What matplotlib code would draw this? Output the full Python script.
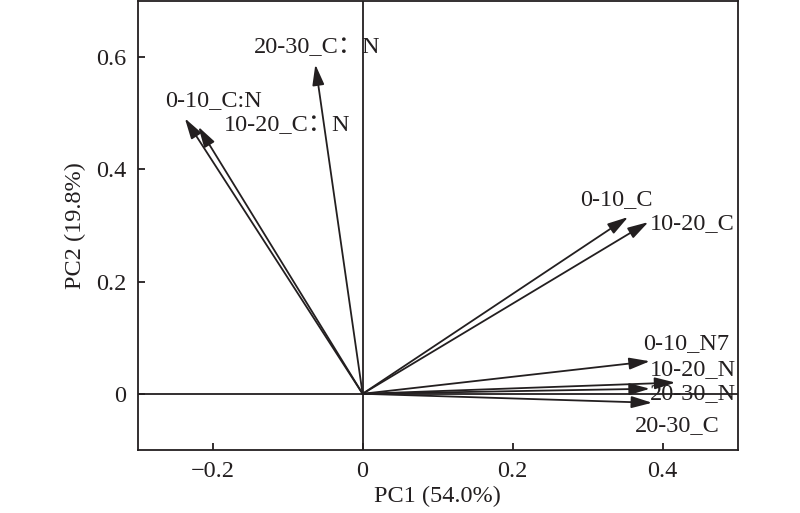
import matplotlib
matplotlib.use("Agg")
import matplotlib.pyplot as plt

# Loadings (arrow tips)
labels = ["0-10_C:N", "10-20_C：N", "20-30_C：N", "0-10_C", "10-20_C",
          "0-10_N7", "10-20_N", "20-30_N", "20-30_C"]
pc1 = [-0.237, -0.219, -0.063, 0.354, 0.381, 0.383, 0.417, 0.383, 0.386]
pc2 = [0.491, 0.476, 0.587, 0.315, 0.306, 0.058, 0.020, 0.009, -0.016]
xticks = [-0.2, 0, 0.2, 0.4]
xticklabels = ["\u22120.2", "0", "0.2", "0.4"]
yticks = [0, 0.2, 0.4, 0.6]
yticklabels = ["0", "0.2", "0.4", "0.6"]

# label offsets (points) relative to arrow tips: layout only
offsets = [(-14.4, 12.5), (18.5, 0.7), (-44.6, 12.2), (-34.8, 12.7), (1.2, -0.7),
           (-4.8, 12.7), (-18.0, 9.1), (0.0, -3.6), (-12.2, -16.6)]

ink = "#231f20"
fam = ["Liberation Serif", "Noto Sans CJK SC", "DejaVu Serif"]
plt.rcParams["font.family"] = fam
fs = 17.5

fig = plt.figure(figsize=(8.0, 5.13), dpi=100)
ax = fig.add_axes([0.172, 0.123, 0.750, 0.875])
ax.set_xlim(-0.3, 0.5)
ax.set_ylim(-0.1, 0.7)

ax.axhline(0, color=ink, lw=1.3, zorder=1)
ax.axvline(0, color=ink, lw=1.3, zorder=1)

for lab, x, y, (dx, dy) in zip(labels, pc1, pc2, offsets):
    ax.annotate("", xy=(x, y), xytext=(0, 0),
                arrowprops=dict(arrowstyle="-|>,head_length=1.25,head_width=0.36",
                                mutation_scale=10, color=ink, lw=1.3,
                                shrinkA=0, shrinkB=0),
                zorder=3)
    ax.annotate(lab, xy=(x, y), xytext=(dx, dy), textcoords="offset points",
                ha="left", va="center", fontsize=fs, color=ink, family=fam,
                zorder=4)

ax.set_xticks(xticks)
ax.set_xticklabels(xticklabels)
ax.set_yticks(yticks)
ax.set_yticklabels(yticklabels)
ax.tick_params(direction="in", length=5, width=1.3, colors=ink, labelsize=fs,
               top=False, right=False)
ax.tick_params(axis="x", pad=8)
ax.tick_params(axis="y", pad=8)
for sp in ax.spines.values():
    sp.set_color(ink)
    sp.set_linewidth(1.3)

ax.set_xlabel("PC1 (54.0%)", fontsize=fs, color=ink, labelpad=3)
ax.set_ylabel("PC2 (19.8%)", fontsize=fs, color=ink, labelpad=7)

fig.savefig("out.png", dpi=100)
